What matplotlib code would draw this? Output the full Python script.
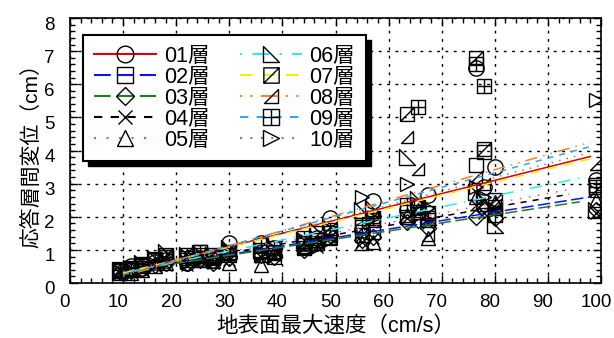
import numpy as np
import matplotlib
matplotlib.use("Agg")
import matplotlib.pyplot as plt
from matplotlib.path import Path
from matplotlib.lines import Line2D
from matplotlib.patches import Rectangle
import matplotlib.transforms as mtransforms

plt.rcParams['font.family'] = ['Liberation Sans', 'Noto Sans CJK JP']

# ── data ──────────────────────────────────────────────────────────────────────
pgv = [9.5, 11.5, 13.5, 16, 18, 22, 24.5, 27, 30, 36, 38.5, 44, 46.5, 49,
       55, 57, 63.5, 65.5, 67.5, 76.5, 78, 80, 99]

layer_labels = ['01層', '02層', '03層', '04層', '05層',
                '06層', '07層', '08層', '09層', '10層']

drift_01 = [0.38, 0.52, 0.45, 0.62, 0.70, 0.60, 0.75, 0.70, 1.20, 1.20, 1.05, 1.20,
            1.35, 1.96, 1.60, 2.48, 2.20, 2.30, 2.66, 6.50, 2.90, 3.50, 3.10]
drift_02 = [0.35, 0.40, 0.50, 0.68, 0.78, 0.85, 0.95, 0.85, 0.95, 1.00, 0.95, 1.05,
            1.50, 1.50, 1.70, 1.55, 2.00, 2.15, 1.90, 3.55, 3.95, 2.30, 2.95]
drift_03 = [0.33, 0.35, 0.42, 0.55, 0.60, 0.60, 0.70, 0.60, 0.75, 0.85, 0.80, 1.00,
            1.20, 1.45, 1.30, 1.40, 1.85, 1.90, 1.65, 2.00, 2.20, 1.95, 2.20]
drift_04 = [0.30, 0.32, 0.40, 0.50, 0.55, 0.55, 0.65, 0.60, 0.70, 0.80, 0.85, 1.05,
            1.10, 1.40, 1.25, 1.35, 1.95, 2.10, 1.80, 2.35, 2.10, 2.25, 2.10]
drift_05 = [0.30, 0.30, 0.38, 0.50, 0.60, 0.82, 0.70, 0.65, 0.60, 0.55, 0.90, 1.10,
            1.20, 1.35, 1.20, 1.25, 2.05, 2.20, 1.35, 2.60, 2.40, 2.45, 2.50]
drift_06 = [0.40, 0.45, 0.60, 0.75, 0.95, 0.85, 0.90, 0.85, 1.05, 1.00, 1.10, 1.30,
            1.60, 1.70, 2.20, 2.25, 3.80, 2.55, 2.00, 2.75, 2.50, 1.75, 2.20]
drift_07 = [0.42, 0.42, 0.55, 0.72, 0.85, 0.75, 0.85, 0.75, 0.90, 0.85, 0.80, 1.20,
            1.30, 1.40, 1.45, 1.90, 5.10, 2.30, 2.10, 6.80, 4.05, 2.50, 2.80]
drift_08 = [0.35, 0.38, 0.50, 0.66, 0.80, 0.90, 0.80, 0.88, 1.00, 1.10, 0.95, 1.10,
            1.45, 1.55, 1.65, 2.00, 4.40, 3.45, 1.45, 3.20, 3.00, 2.35, 3.60]
drift_09 = [0.40, 0.44, 0.58, 0.70, 0.80, 0.70, 0.95, 0.80, 0.85, 1.15, 1.05, 1.35,
            1.20, 1.60, 1.75, 1.95, 2.35, 5.30, 1.95, 6.60, 5.95, 2.05, 2.90]
drift_10 = [0.32, 0.36, 0.45, 0.58, 0.65, 0.62, 0.70, 0.70, 1.00, 0.90, 1.00, 1.30,
            1.10, 1.30, 2.60, 1.95, 3.00, 2.40, 2.25, 2.90, 2.60, 2.20, 5.53]

drifts = [drift_01, drift_02, drift_03, drift_04, drift_05,
          drift_06, drift_07, drift_08, drift_09, drift_10]

# regression line end points per layer
fit_x0 = [10, 10, 10, 10, 10, 10, 10, 10, 10, 10]
fit_x1 = [98, 98, 96, 94, 94, 97, 98, 98, 98, 97]
fit_y0 = [0.30, 0.35, 0.35, 0.35, 0.35, 0.30, 0.30, 0.20, 0.25, 0.25]
fit_y1 = [3.82, 2.60, 2.45, 2.68, 2.82, 3.20, 3.75, 4.25, 4.12, 3.90]

# ── styles ────────────────────────────────────────────────────────────────────
sq = [(-1, -1), (1, -1), (1, 1), (-1, 1), (-1, -1)]
sq_codes = [Path.MOVETO] + [Path.LINETO] * 3 + [Path.CLOSEPOLY]
M_06 = Path([(-1, 1), (-1, -1), (1, -1), (-1, 1)],
            [Path.MOVETO, Path.LINETO, Path.LINETO, Path.CLOSEPOLY])
M_07 = Path(sq + [(-1, -1), (1, 1)], sq_codes + [Path.MOVETO, Path.LINETO])
M_08 = Path([(-1, -1), (1, -1), (1, 1), (-1, -1)],
            [Path.MOVETO, Path.LINETO, Path.LINETO, Path.CLOSEPOLY])
M_09 = Path(sq + [(0, -1), (0, 1), (-1, 0), (1, 0)],
            sq_codes + [Path.MOVETO, Path.LINETO, Path.MOVETO, Path.LINETO])

markers = ['o', 's', 'D', 'x', '^', M_06, M_07, M_08, M_09, '>']
msizes = [11, 10, 8, 9, 10, 11, 10, 9, 10, 10]
colors = ['#e00000', '#1010ff', '#1e7d1e', '#000000', '#ff4090',
          '#30e8f5', '#f0f000', '#ff7f27', '#30a8ec', '#808080']
styles = ['-', (0, (8, 3)), (0, (8, 3)), (0, (4, 4)), (0, (1, 5)),
          (0, (1, 5, 8, 5)), (0, (6, 5)), (0, (1, 4, 1, 4, 8, 4)),
          (0, (4, 4)), (0, (1, 4))]

# ── figure ────────────────────────────────────────────────────────────────────
fig = plt.figure(figsize=(6.14, 3.38), dpi=100)
ax = fig.add_axes([70 / 614, 55 / 338, 531 / 614, 265 / 338])

for i in range(10):
    ax.plot(pgv, drifts[i], linestyle='none', marker=markers[i],
            markersize=msizes[i], markerfacecolor='none',
            markeredgecolor='black', markeredgewidth=1.0, zorder=3)
    ax.plot([fit_x0[i], fit_x1[i]], [fit_y0[i], fit_y1[i]],
            color=colors[i], linestyle=styles[i], linewidth=1.1, zorder=4)

ax.set_xlim(0, 100)
ax.set_ylim(0, 8)
ax.set_xticks(np.arange(0, 101, 10))
ax.set_xticks(np.arange(0, 101, 2), minor=True)
ax.set_yticks(np.arange(0, 9, 1))
ax.set_yticks(np.arange(0, 8.01, 0.2), minor=True)
ax.tick_params(which='both', direction='in', top=True, right=True,
               labelsize=13.5, width=1.0)
ax.tick_params(axis='x', which='major', length=6, pad=8)
ax.tick_params(axis='y', which='major', length=6, pad=11)
ax.tick_params(which='minor', length=3.5)
ax.grid(True, which='major', color='black', linestyle=(0, (2, 4)), linewidth=1.0)
for sp in ax.spines.values():
    sp.set_linewidth(1.2)

# labels sit slightly off their ticks, as in the source
dx = mtransforms.ScaledTranslation(-5 / 100, 0, fig.dpi_scale_trans)
dy = mtransforms.ScaledTranslation(0, -5 / 100, fig.dpi_scale_trans)
for lab in ax.get_xticklabels():
    lab.set_transform(lab.get_transform() + dx)
for lab in ax.get_yticklabels():
    lab.set_transform(lab.get_transform() + dy)

ax.set_xlabel('地表面最大速度（cm/s）', fontsize=15.5, labelpad=3)
ax.set_ylabel('応答層間変位（cm）', fontsize=15, labelpad=2)

# ── legend ────────────────────────────────────────────────────────────────────
handles = [Line2D([], [], color=colors[i], linestyle=styles[i], linewidth=1.5,
                  marker=markers[i], markersize=msizes[i] + 1,
                  markerfacecolor='none', markeredgecolor='black',
                  markeredgewidth=1.0)
           for i in range(10)]
leg = ax.legend(handles, layer_labels, ncol=2, loc='upper left',
                bbox_to_anchor=(0.0245, 0.936), borderaxespad=0,
                fontsize=15.5, handlelength=2.9, handletextpad=0.35,
                columnspacing=1.4, labelspacing=0.0, borderpad=0.5,
                fancybox=False, framealpha=1, edgecolor='black')
leg.get_frame().set_linewidth(1.5)
leg.set_zorder(10)

fig.canvas.draw()
bb = leg.get_window_extent().transformed(ax.transAxes.inverted())
off = mtransforms.ScaledTranslation(5 / 100, -5 / 100, fig.dpi_scale_trans)
shadow = Rectangle((bb.x0, bb.y0), bb.width, bb.height, facecolor='black',
                   edgecolor='black', transform=ax.transAxes + off,
                   clip_on=False, zorder=9.9)
ax.add_artist(shadow)

fig.savefig('out.png', dpi=100)
